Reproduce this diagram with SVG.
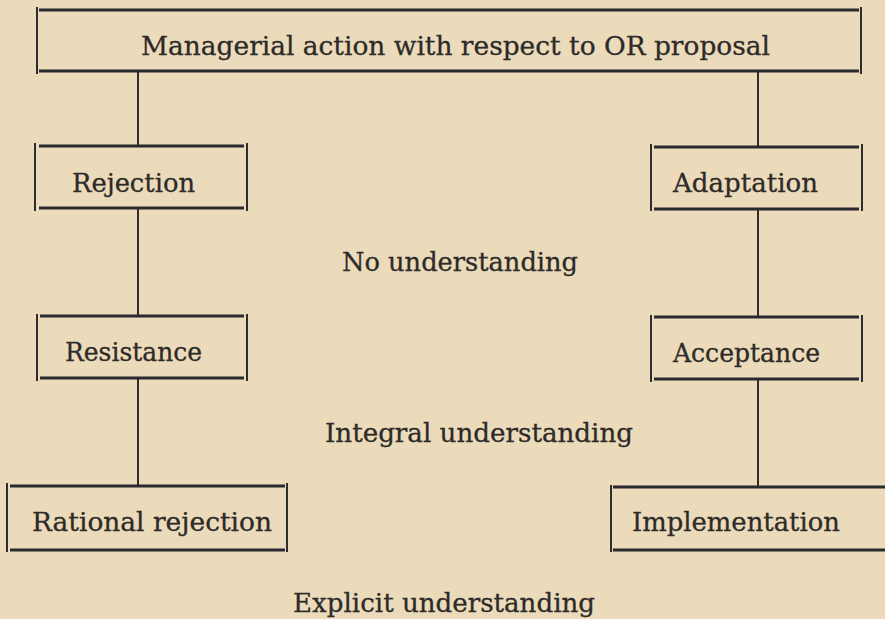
<svg xmlns="http://www.w3.org/2000/svg" width="885" height="619" viewBox="0 0 885 619">
<style>
.h{stroke:#2a2930;stroke-width:3;fill:none}
.v{stroke:#2e2c2c;stroke-width:2;fill:none}
.c{stroke:#2e2c2c;stroke-width:2;fill:none}
text{font-family:"DejaVu Serif","Liberation Serif",serif;font-size:26px;fill:#2d2a28;stroke:#2d2a28;stroke-width:0.3}
</style>
<rect width="885" height="619" fill="#ebdbbb"/>
<g id="connectors">
<line class="c" x1="138" y1="72" x2="138" y2="146"/>
<line class="c" x1="758" y1="72" x2="758" y2="146"/>
<line class="c" x1="138" y1="209" x2="138" y2="316"/>
<line class="c" x1="758" y1="209" x2="758" y2="317"/>
<line class="c" x1="138" y1="378" x2="138" y2="486"/>
<line class="c" x1="758" y1="379" x2="758" y2="487"/>
</g>
<g id="top">
<line class="h" x1="39" y1="10" x2="859" y2="10"/>
<line class="h" x1="39" y1="71" x2="859" y2="71"/>
<line class="v" x1="37" y1="7" x2="37" y2="74"/>
<line class="v" x1="861" y1="7" x2="861" y2="74"/>
<text x="141" y="55" textLength="629" lengthAdjust="spacingAndGlyphs">Managerial action with respect to OR proposal</text>
</g>
<g id="rejection">
<line class="h" x1="39" y1="146" x2="244" y2="146"/>
<line class="h" x1="39" y1="208" x2="244" y2="208"/>
<line class="v" x1="35" y1="143" x2="35" y2="211"/>
<line class="v" x1="247" y1="143" x2="247" y2="211"/>
<text x="72" y="192" textLength="123" lengthAdjust="spacingAndGlyphs">Rejection</text>
</g>
<g id="adaptation">
<line class="h" x1="654" y1="147" x2="859" y2="147"/>
<line class="h" x1="654" y1="209" x2="859" y2="209"/>
<line class="v" x1="651" y1="144" x2="651" y2="211"/>
<line class="v" x1="862" y1="144" x2="862" y2="211"/>
<text x="673" y="192" textLength="145" lengthAdjust="spacingAndGlyphs">Adaptation</text>
</g>
<g id="resistance">
<line class="h" x1="40" y1="316" x2="244" y2="316"/>
<line class="h" x1="40" y1="378" x2="244" y2="378"/>
<line class="v" x1="37" y1="314" x2="37" y2="381"/>
<line class="v" x1="247" y1="314" x2="247" y2="381"/>
<text x="65" y="361" textLength="137" lengthAdjust="spacingAndGlyphs">Resistance</text>
</g>
<g id="acceptance">
<line class="h" x1="654" y1="317" x2="859" y2="317"/>
<line class="h" x1="654" y1="379" x2="859" y2="379"/>
<line class="v" x1="651" y1="315" x2="651" y2="382"/>
<line class="v" x1="862" y1="315" x2="862" y2="382"/>
<text x="673" y="362" textLength="147" lengthAdjust="spacingAndGlyphs">Acceptance</text>
</g>
<g id="rational-rejection">
<line class="h" x1="10" y1="486" x2="285" y2="486"/>
<line class="h" x1="10" y1="550" x2="285" y2="550"/>
<line class="v" x1="7" y1="483" x2="7" y2="552"/>
<line class="v" x1="287" y1="483" x2="287" y2="552"/>
<text x="32" y="531" textLength="240" lengthAdjust="spacingAndGlyphs">Rational rejection</text>
</g>
<g id="implementation">
<line class="h" x1="613" y1="487" x2="885" y2="487"/>
<line class="h" x1="613" y1="550" x2="885" y2="550"/>
<line class="v" x1="611" y1="485" x2="611" y2="552"/>
<text x="632" y="531" textLength="208" lengthAdjust="spacingAndGlyphs">Implementation</text>
</g>
<g id="labels">
<text x="342" y="271" textLength="236" lengthAdjust="spacingAndGlyphs">No understanding</text>
<text x="325" y="442" textLength="308" lengthAdjust="spacingAndGlyphs">Integral understanding</text>
<text x="293" y="612" textLength="302" lengthAdjust="spacingAndGlyphs">Explicit understanding</text>
</g>
</svg>
